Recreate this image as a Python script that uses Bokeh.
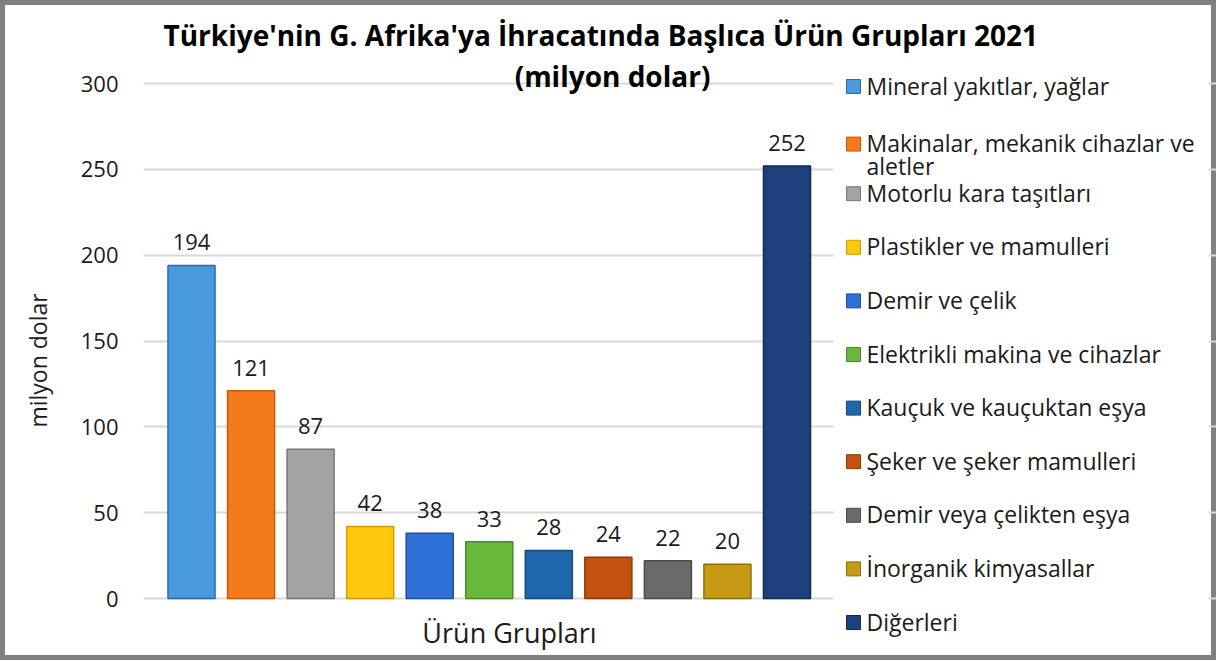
import numpy as np
from bokeh.plotting import figure
from bokeh.models import Range1d, LabelSet, ColumnDataSource, FixedTicker
from bokeh.core.properties import value
from bokeh.embed import file_html
from bokeh.resources import INLINE

title_line1 = "Türkiye'nin G. Afrika'ya İhracatında Başlıca Ürün Grupları 2021"
title_line2 = "(milyon dolar)"
x_title = "Ürün Grupları"
y_title = "milyon dolar"
categories = ["Mineral yakıtlar, yağlar", "Makinalar, mekanik cihazlar ve\naletler",
              "Motorlu kara taşıtları", "Plastikler ve mamulleri", "Demir ve çelik",
              "Elektrikli makina ve cihazlar", "Kauçuk ve kauçuktan eşya",
              "Şeker ve şeker mamulleri", "Demir veya çelikten eşya",
              "İnorganik kimyasallar", "Diğerleri"]
values = [194, 121, 87, 42, 38, 33, 28, 24, 22, 20, 252]
colors = ["#4a9ae0", "#f57a1c", "#a3a3a3", "#ffc80c", "#2f70d6", "#68b83c",
          "#1f67ad", "#c4520f", "#6a6a6a", "#c69a14", "#1d3f7c"]
edges = ["#2c6aa5", "#c45a0c", "#777777", "#d19c00", "#1f4f9e", "#4a8a28",
         "#164a7d", "#8f3a08", "#4a4a4a", "#8f6f0c", "#122a55"]
yticks = [0, 50, 100, 150, 200, 250, 300]

FONT = "Open Sans"
TXT = "#1a1a1a"
W, H = 1216, 660

# page-pixel -> data helpers
X0, XS = 191.0, 59.55
Y0, YS = 598.0, 515.0 / 300.0
def dx(px): return (px - X0) / XS
def dy(py): return (Y0 - py) / YS

p = figure(width=W, height=H, output_backend="svg", toolbar_location=None,
           x_range=Range1d(dx(143), dx(W)), y_range=Range1d(dy(H), dy(60)),
           min_border_left=143, min_border_right=0, min_border_top=60, min_border_bottom=0)
p.background_fill_color = None
p.border_fill_color = None
p.styles = {"outline": "5px solid #808080", "outline-offset": "-5px", "background-color": "white"}
p.outline_line_color = None
p.xaxis.visible = False
p.xgrid.visible = False
p.yaxis.ticker = FixedTicker(ticks=yticks)
p.ygrid.grid_line_color = "#d9d9d9"
p.ygrid.grid_line_width = 2
p.yaxis.axis_line_color = None
p.yaxis.major_tick_line_color = None
p.yaxis.minor_tick_line_color = None
p.yaxis.major_tick_out = 0
p.yaxis.major_tick_in = 0
p.yaxis.major_label_standoff = 25
p.yaxis.major_label_text_font = FONT
p.yaxis.major_label_text_font_size = "22px"
p.yaxis.major_label_text_color = TXT
p.yaxis.axis_label = y_title
p.yaxis.axis_label_text_font = FONT
p.yaxis.axis_label_text_font_size = "23px"
p.yaxis.axis_label_text_font_style = "normal"
p.yaxis.axis_label_text_color = TXT
p.yaxis.axis_label_standoff = 24

p.title.text = title_line1
p.title.align = "left"
p.title.offset = 20
p.title.standoff = 14
p.title.text_font = FONT
p.title.text_font_size = "28px"
p.title.text_font_style = "bold"
p.title.text_color = "#000000"

# white mask so the gridlines stop where the legend area begins
p.quad(left=[dx(833)], right=[dx(W - 8)], bottom=[-2], top=[302],
       fill_color="white", line_color=None)

src = ColumnDataSource(dict(x=list(range(len(values))), top=values, color=colors, edge=edges,
                            lab=[str(v) for v in values]))
p.vbar(x="x", top="top", width=0.79, source=src, fill_color="color", line_color="edge", line_width=1.5)
p.add_layout(LabelSet(x="x", y="top", text="lab", source=src, y_offset=23, text_align="center",
                      text_baseline="middle", text_font=value(FONT), text_font_size="22px",
                      text_color=TXT))

# second title line and x-axis title (inside the frame area)
p.text(x=[dx(612)], y=[dy(75)], text=[title_line2], text_align="center", text_baseline="middle",
       text_font=value(FONT), text_font_style="bold", text_font_size="28px", text_color="#000000")
p.text(x=[dx(509)], y=[dy(632)], text=[x_title], text_align="center", text_baseline="middle",
       text_font=value(FONT), text_font_size="27px", text_color=TXT)

# legend
sq_y, tx_y, tx_t = [], [], []
for i, name in enumerate(categories):
    yc = 85 + i * 53.6
    if "\n" in name:
        yc += 4
    sq_y.append(dy(yc + 1))
    for j, ln in enumerate(name.split("\n")):
        tx_y.append(dy(yc + j * 23))
        tx_t.append(ln)
p.scatter(x=[dx(853)] * len(categories), y=sq_y, marker="square", size=14,
          fill_color=colors, line_color=edges, line_width=1)
p.text(x=[dx(866)] * len(tx_t), y=tx_y, text=tx_t, text_align="left", text_baseline="middle",
       text_font=value(FONT), text_font_size="23px", text_color=TXT)

open("out.html", "w").write(file_html(p, INLINE))
